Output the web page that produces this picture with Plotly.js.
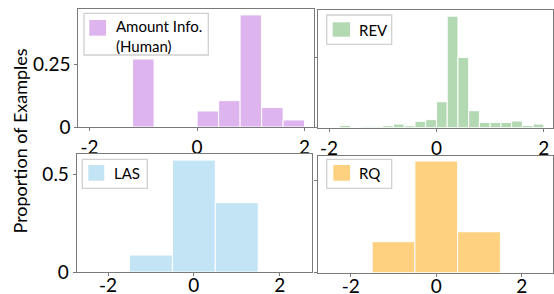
<!DOCTYPE html>
<html>
<head>
<meta charset="utf-8">
<script src="https://cdn.plot.ly/plotly-3.0.1.min.js"></script>
<style>html,body{margin:0;padding:0;background:#fff;}#chart{width:554px;height:294px;}</style>
</head>
<body>
<div id="chart"></div>
<script>
// ---- data ----
const amountBins = [-1.8, -1.4, -1.0, -0.6, -0.2, 0.2, 0.6, 1.0, 1.4, 1.8];
const amountVals = [0, 0, 0.271, 0, 0, 0.064, 0.105, 0.447, 0.078, 0.028];

const revBins = [-1.9, -1.7, -1.5, -1.3, -1.1, -0.9, -0.7, -0.5, -0.3, -0.1,
                 0.1, 0.3, 0.5, 0.7, 0.9, 1.1, 1.3, 1.5, 1.7, 1.9];
const revVals = [0, 0.008, 0, 0.003, 0.003, 0.007, 0.013, 0.007, 0.023, 0.029,
                 0.093, 0.400, 0.252, 0.061, 0.019, 0.019, 0.019, 0.024, 0.008, 0.013];

const lasBins = [-1, 0, 1];
const lasVals = [0.087, 0.573, 0.355];

const rqBins = [-1, 0, 1];
const rqVals = [0.169, 0.608, 0.223];

const seriesNames = ["Amount Info.<br>(Human)", "REV", "LAS", "RQ"];
const xTickVals = [-2, 0, 2];
const xTickText = ["-2", "0", "2"];
const yTitle = "Proportion of Examples";

// ---- styling ----
const W = 554, H = 294;
const FONT = "Lato, 'Noto Sans', sans-serif";
const frame = "#7a7a7a";
const colors = ["#ddb4ee", "#b3d9b3", "#c3e4f4", "#fdd17f"];

function bar(x, y, w, name, color, xa, ya) {
  return {type: "bar", x: x, y: y, width: w, name: name, xaxis: xa, yaxis: ya,
          marker: {color: color, line: {color: "#ffffff", width: 1}}, showlegend: false,
          hoverinfo: "skip"};
}
const traces = [
  bar(amountBins, amountVals, 0.4, seriesNames[0], colors[0], "x", "y"),
  bar(revBins, revVals, 0.2, seriesNames[1], colors[1], "x2", "y2"),
  bar(lasBins, lasVals, 1.0, seriesNames[2], colors[2], "x3", "y3"),
  bar(rqBins, rqVals, 1.0, seriesNames[3], colors[3], "x4", "y4")
];

function px(x) { return x / W; }
function py(y) { return 1 - y / H; }

function xax(d, r, anchor, standoff) {
  return {domain: d, range: r, anchor: anchor, tickvals: xTickVals, ticktext: xTickText,
          showline: true, mirror: true, linecolor: frame, linewidth: 1,
          ticks: "outside", ticklen: 3, tickcolor: frame, showgrid: false, zeroline: false,
          ticklabelstandoff: standoff,
          tickfont: {family: FONT, size: 19, color: "#000"}, fixedrange: true};
}
function yax(d, r, anchor, tv, tt, show) {
  return {domain: d, range: r, anchor: anchor, tickvals: tv, ticktext: tt, showticklabels: show,
          showline: true, mirror: true, linecolor: frame, linewidth: 1,
          ticks: "outside", ticklen: 3, tickcolor: frame, showgrid: false, zeroline: false,
          tickfont: {family: FONT, size: 19, color: "#000"}, fixedrange: true};
}

// custom legend boxes: [box x0,y0,x1,y1], [swatch x0,y0,x1,y1], text x, text y
const legendBoxes = [
  {box: [84, 13.3, 208.3, 55], sw: [89.3, 20, 106, 35.7], tx: 114.3, ty: 36.5},
  {box: [326.7, 15, 391.7, 44.3], sw: [332.7, 22.3, 350, 36.7], tx: 356.7, ty: 29.5},
  {box: [82.3, 159.3, 147.3, 188.3], sw: [88.3, 165, 104.3, 180.7], tx: 111.7, ty: 172.7},
  {box: [326.7, 159.3, 391.7, 188.3], sw: [333.3, 165, 350, 180.7], tx: 356.7, ty: 172.7}
];
const shapes = [], annotations = [];
legendBoxes.forEach((L, i) => {
  shapes.push({type: "rect", xref: "paper", yref: "paper",
    x0: px(L.box[0]), x1: px(L.box[2]), y0: py(L.box[3]), y1: py(L.box[1]),
    line: {color: "#d0d0d0", width: 1.3}, fillcolor: "#ffffff", layer: "above"});
  shapes.push({type: "rect", xref: "paper", yref: "paper",
    x0: px(L.sw[0]), x1: px(L.sw[2]), y0: py(L.sw[3]), y1: py(L.sw[1]),
    line: {width: 0}, fillcolor: colors[i], layer: "above"});
  annotations.push({text: seriesNames[i], xref: "paper", yref: "paper",
    x: px(L.tx), y: py(L.ty), xanchor: "left", yanchor: "middle", align: "left",
    showarrow: false, font: {family: FONT, size: 15, color: "#000"}});
});
annotations.push({
  text: yTitle, xref: "paper", yref: "paper", x: px(19), y: py(141.5),
  xanchor: "center", yanchor: "middle", textangle: -90, showarrow: false,
  font: {family: FONT, size: 18, color: "#000"}
});

const layout = {
  width: W, height: H, margin: {l: 0, r: 0, t: 0, b: 0},
  paper_bgcolor: "#fff", plot_bgcolor: "#fff", bargap: 0, barmode: "overlay",
  font: {family: FONT}, showlegend: false,
  xaxis:  xax([px(78.3), px(314.3)], [-2.21, 2.18], "y", 0),
  yaxis:  yax([py(127), py(9)], [0, 0.4705], "x", [0, 0.25], ["0", "0.25"], true),
  xaxis2: xax([px(318.3), px(553)], [-2.2, 2.17], "y2", 0),
  yaxis2: yax([py(127.7), py(10)], [0, 0.422], "x2", [0, 0.25], ["0", "0.25"], false),
  xaxis3: xax([px(76.7), px(312.3)], [-2.73, 2.76], "y3", -7),
  yaxis3: yax([py(272), py(154.3)], [0, 0.6027], "x3", [0, 0.5], ["0", "0.5"], true),
  xaxis4: xax([px(318.3), px(553)], [-2.76, 2.73], "y4", -7),
  yaxis4: yax([py(272.7), py(155.7)], [0, 0.637], "x4", [0, 0.5], ["0", "0.5"], false),
  shapes: shapes,
  annotations: annotations
};

Plotly.newPlot("chart", traces, layout, {staticPlot: true, displayModeBar: false});
</script>
</body>
</html>
